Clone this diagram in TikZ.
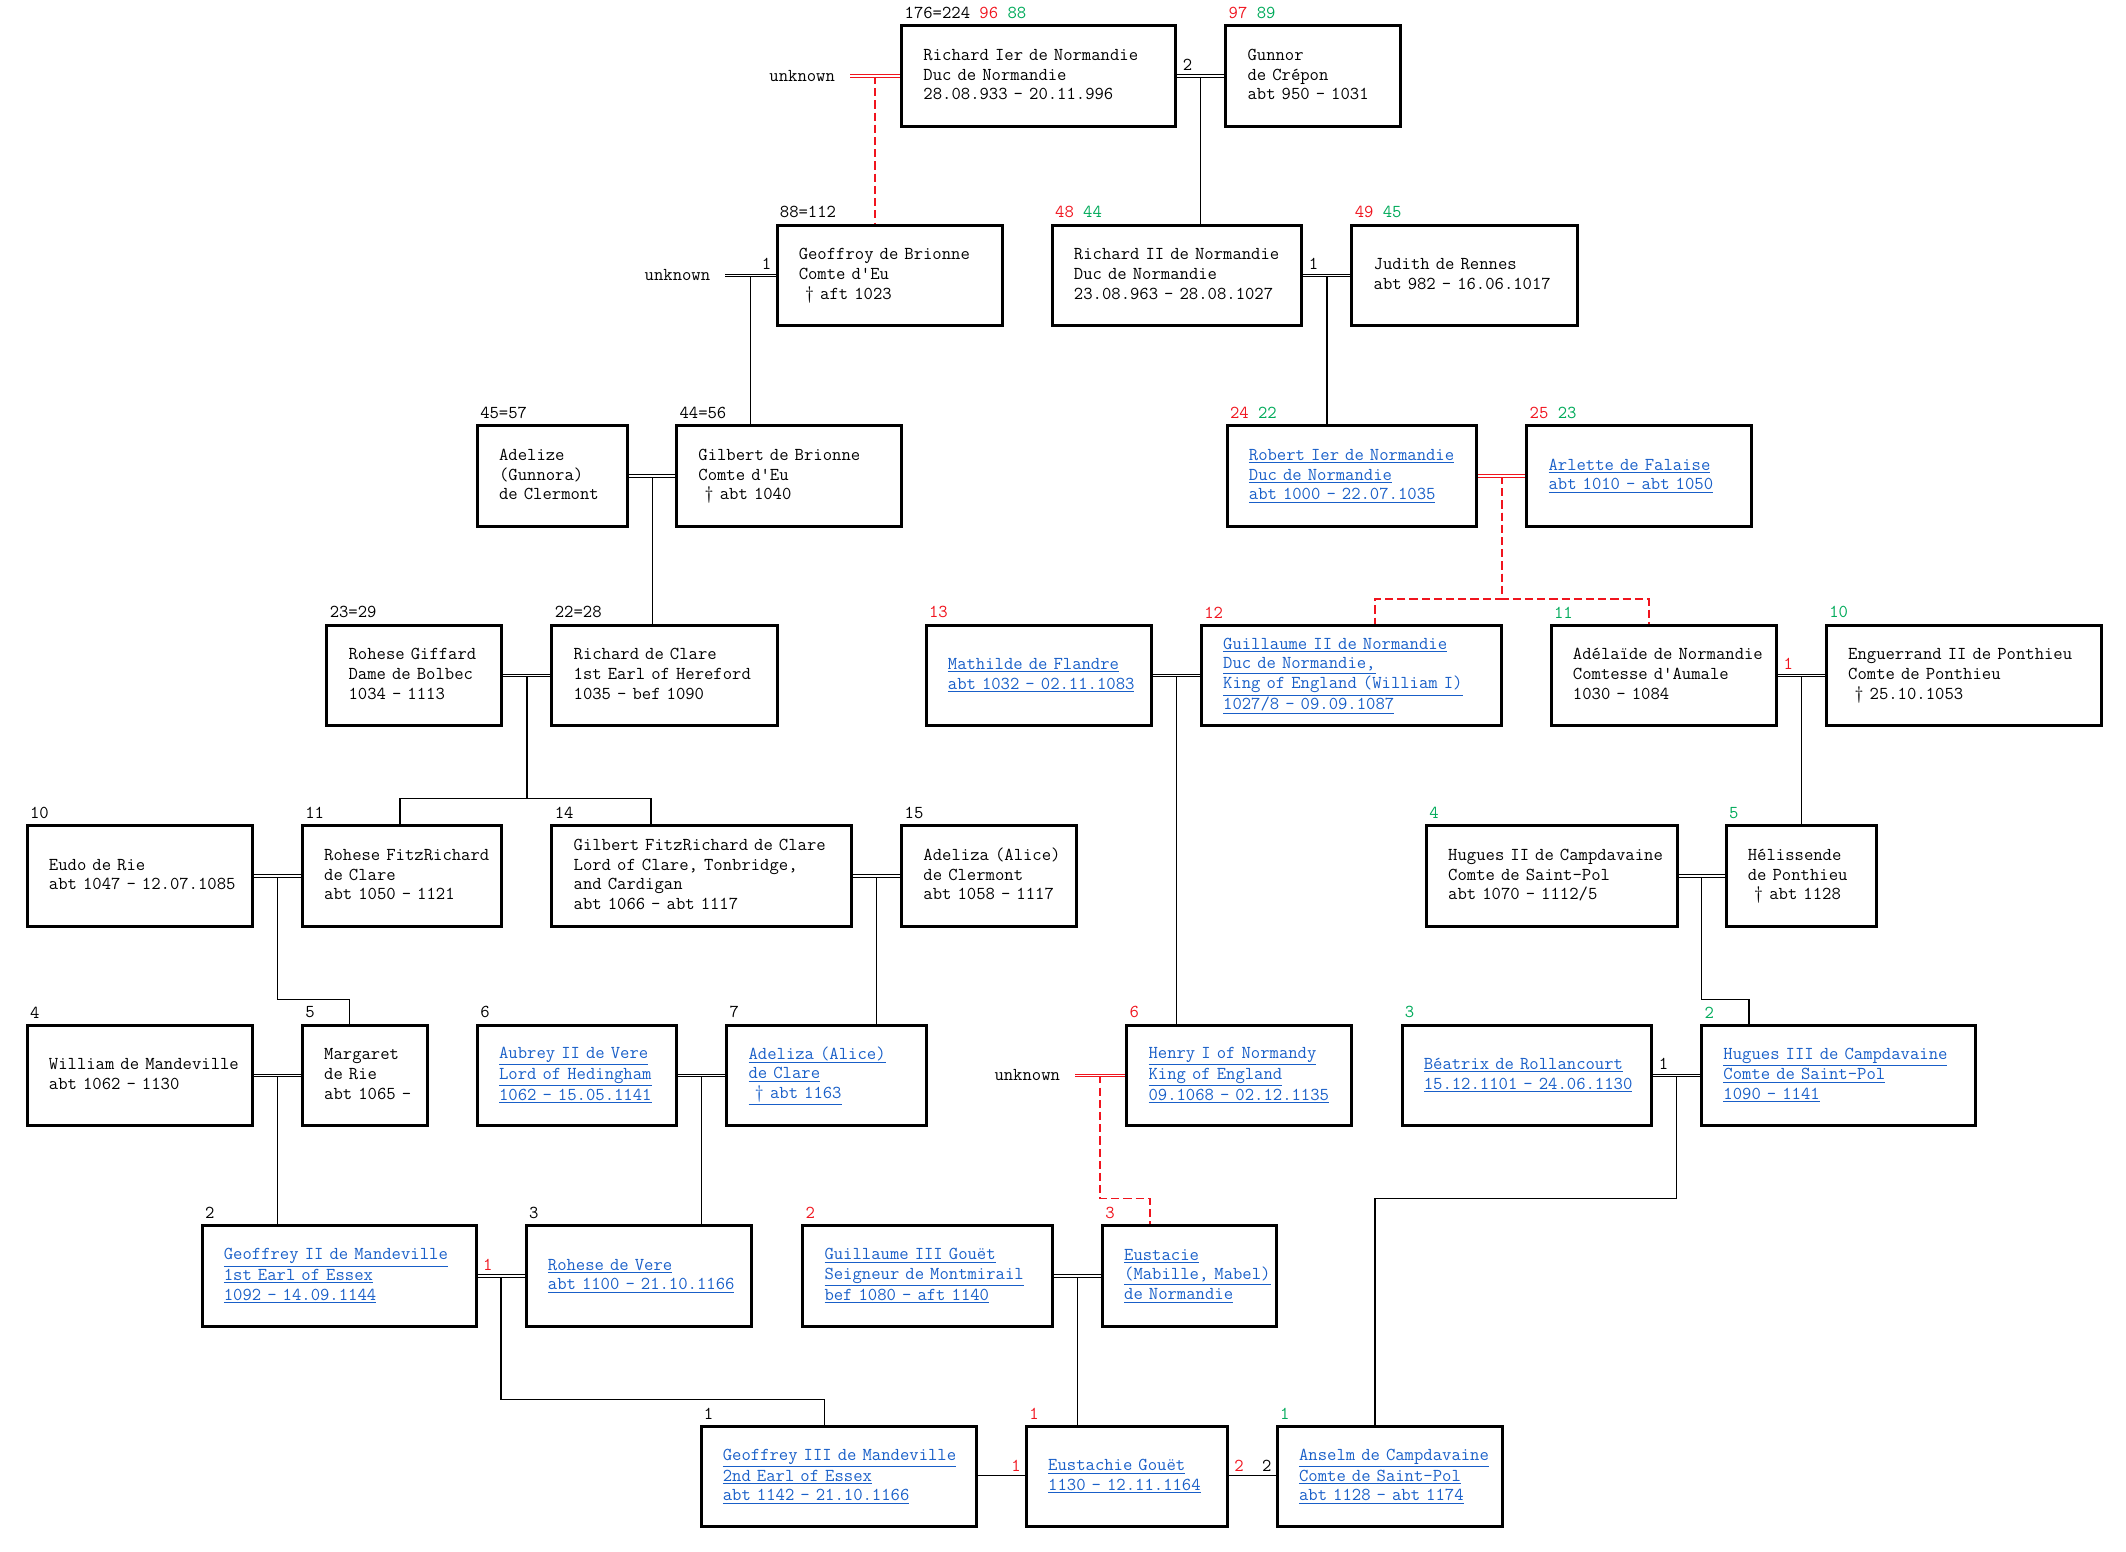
\documentclass[tikz,border=0pt]{standalone}
\usepackage{tikz}
\usetikzlibrary{positioning,calc,backgrounds}
\definecolor{linkblue}{RGB}{25,95,200}
\definecolor{genred}{RGB}{240,20,30}
\definecolor{gengreen}{RGB}{0,170,90}
\newcommand{\chartfont}{\fontsize{13.4}{14.6}\selectfont\ttfamily}
\newcommand{\entrylines}[1]{\begin{tabular}{@{}l@{}}#1\end{tabular}}
\tikzset{
    person/.style={draw, line width=2.2pt, anchor=north west, minimum height=74pt,
        inner xsep=16pt, inner ysep=0pt, text width=#1-32pt, align=left, font=\chartfont},
    linked/.style={person=#1, text=linkblue},
    gen/.style={inner sep=0pt, font=\chartfont},
    num/.style={inner sep=0pt, font=\chartfont},
    unk/.style={inner xsep=11pt, inner ysep=0pt, font=\chartfont},
    marr/.style={double, line width=0.6pt, double distance=1.2pt},
    marrR/.style={marr, draw=genred},
    desc/.style={line width=1pt},
    descR/.style={line width=1.3pt, genred, dash pattern=on 6pt off 3pt},
}

\begin{document}
\begin{tikzpicture}[x=1pt, y=-1pt]
    \useasboundingbox (0,0) rectangle (1568,1144);

    % Generation 1
    \node[person=202pt] (rich1) at (664,18) {\entrylines{Richard Ier de Normandie\\Duc de Normandie\\28.08.933 - 20.11.996}};
    \node[person=129pt] (gunnor) at (903,18) {\entrylines{Gunnor\\de Crépon\\abt 950 - 1031}};
    \node[unk, left=37pt of rich1.west] (unk1) {unknown};

    % Generation 2
    \node[person=166pt] (geof) at (572,165) {\entrylines{Geoffroy de Brionne\\Comte d'Eu\\~† aft 1023}};
    \node[person=184pt] (rich2) at (775,165) {\entrylines{Richard II de Normandie\\Duc de Normandie\\23.08.963 - 28.08.1027}};
    \node[person=166pt] (judith) at (996,165) {\entrylines{Judith de Rennes\\abt 982 - 16.06.1017}};
    \node[unk, left=37pt of geof.west] (unk2) {unknown};

    % Generation 3
    \node[person=111pt] (adelize) at (351,313) {\entrylines{Adelize\\(Gunnora)\\de Clermont}};
    \node[person=166pt] (gilb) at (498,313) {\entrylines{Gilbert de Brionne\\Comte d'Eu\\~† abt 1040}};
    \node[linked=184pt] (robert) at (904,313) {\entrylines{\underline{Robert Ier de Normandie}\\\underline{Duc de Normandie}\\\underline{abt 1000 - 22.07.1035}}};
    \node[linked=166pt] (arlette) at (1125,313) {\entrylines{\underline{Arlette de Falaise}\\\underline{abt 1010 - abt 1050}}};

    % Generation 4
    \node[person=129pt] (rgiff) at (240,460) {\entrylines{Rohese Giffard\\Dame de Bolbec\\1034 - 1113}};
    \node[person=166pt] (rclare) at (406,460) {\entrylines{Richard de Clare\\1st Earl of Hereford\\1035 - bef 1090}};
    \node[linked=166pt] (mathilde) at (682,460) {\entrylines{\underline{Mathilde de Flandre}\\\underline{abt 1032 - 02.11.1083}}};
    \node[linked=221pt] (guill) at (885,460) {\entrylines{\underline{Guillaume II de Normandie}\\\underline{Duc de Normandie,}\\\underline{King of England (William I)}\\\underline{1027/8 - 09.09.1087}}};
    \node[person=166pt] (adela) at (1143,460) {\entrylines{Adélaïde de Normandie\\Comtesse d'Aumale\\1030 - 1084}};
    \node[person=203pt] (engu) at (1346,460) {\entrylines{Enguerrand II de Ponthieu\\Comte de Ponthieu\\~† 25.10.1053}};

    % Generation 5
    \node[person=166pt] (eudo) at (19,608) {\entrylines{Eudo de Rie\\abt 1047 - 12.07.1085}};
    \node[person=147pt] (rfitz) at (222,608) {\entrylines{Rohese FitzRichard\\de Clare\\abt 1050 - 1121}};
    \node[person=221pt] (gfitz) at (406,608) {\entrylines{Gilbert FitzRichard de Clare\\Lord of Clare, Tonbridge,\\and Cardigan\\abt 1066 - abt 1117}};
    \node[person=129pt] (adclerm) at (664,608) {\entrylines{Adeliza (Alice)\\de Clermont\\abt 1058 - 1117}};
    \node[person=185pt] (hug2) at (1051,608) {\entrylines{Hugues II de Campdavaine\\Comte de Saint-Pol\\abt 1070 - 1112/5}};
    \node[person=111pt] (heliss) at (1272,608) {\entrylines{Hélissende\\de Ponthieu\\~† abt 1128}};

    % Generation 6
    \node[person=166pt] (william) at (19,755) {\entrylines{William de Mandeville\\abt 1062 - 1130}};
    \node[person=92pt] (margaret) at (222,755) {\entrylines{Margaret\\de Rie\\abt 1065 -}};
    \node[linked=147pt] (aubrey) at (351,755) {\entrylines{\underline{Aubrey II de Vere}\\\underline{Lord of Hedingham}\\\underline{1062 - 15.05.1141}}};
    \node[linked=147pt] (adclare) at (535,755) {\entrylines{\underline{Adeliza (Alice)}\\\underline{de Clare}\\\underline{~† abt 1163}}};
    \node[linked=166pt] (henry) at (830,755) {\entrylines{\underline{Henry I of Normandy}\\\underline{King of England}\\\underline{09.1068 - 02.12.1135}}};
    \node[linked=184pt] (beatrix) at (1033,755) {\entrylines{\underline{Béatrix de Rollancourt}\\\underline{15.12.1101 - 24.06.1130}}};
    \node[linked=202pt] (hug3) at (1254,755) {\entrylines{\underline{Hugues III de Campdavaine}\\\underline{Comte de Saint-Pol}\\\underline{1090 - 1141}}};
    \node[unk, left=37pt of henry.west] (unk3) {unknown};

    % Generation 7
    \node[linked=202pt] (geof2) at (148,903) {\entrylines{\underline{Geoffrey II de Mandeville}\\\underline{1st Earl of Essex}\\\underline{1092 - 14.09.1144}}};
    \node[linked=166pt] (rvere) at (387,903) {\entrylines{\underline{Rohese de Vere}\\\underline{abt 1100 - 21.10.1166}}};
    \node[linked=184pt] (gouet) at (591,903) {\entrylines{\underline{Guillaume III Gouët}\\\underline{Seigneur de Montmirail}\\\underline{bef 1080 - aft 1140}}};
    \node[linked=128pt] (eustacie) at (812,903) {\entrylines{\underline{Eustacie}\\\underline{(Mabille, Mabel)}\\\underline{de Normandie}}};

    % Generation 8
    \node[linked=203pt] (geof3) at (516,1051) {\entrylines{\underline{Geoffrey III de Mandeville}\\\underline{2nd Earl of Essex}\\\underline{abt 1142 - 21.10.1166}}};
    \node[linked=148pt] (eustachie) at (756,1051) {\entrylines{\underline{Eustachie Gouët}\\\underline{1130 - 12.11.1164}}};
    \node[linked=166pt] (anselm) at (941,1051) {\entrylines{\underline{Anselm de Campdavaine}\\\underline{Comte de Saint-Pol}\\\underline{abt 1128 - abt 1174}}};

    % Sosa numbers
    \node[gen, above right=4pt and 3pt of rich1.north west] (g-rich1) {176=224 \textcolor{genred}{96} \textcolor{gengreen}{88}};
    \node[gen, above right=4pt and 3pt of gunnor.north west] (g-gunnor) {\textcolor{genred}{97} \textcolor{gengreen}{89}};
    \node[gen, above right=4pt and 3pt of geof.north west] (g-geof) {88=112};
    \node[gen, above right=4pt and 3pt of rich2.north west] (g-rich2) {\textcolor{genred}{48} \textcolor{gengreen}{44}};
    \node[gen, above right=4pt and 3pt of judith.north west] (g-judith) {\textcolor{genred}{49} \textcolor{gengreen}{45}};
    \node[gen, above right=4pt and 3pt of adelize.north west] (g-adelize) {45=57};
    \node[gen, above right=4pt and 3pt of gilb.north west] (g-gilb) {44=56};
    \node[gen, above right=4pt and 3pt of robert.north west] (g-robert) {\textcolor{genred}{24} \textcolor{gengreen}{22}};
    \node[gen, above right=4pt and 3pt of arlette.north west] (g-arlette) {\textcolor{genred}{25} \textcolor{gengreen}{23}};
    \node[gen, above right=4pt and 3pt of rgiff.north west] (g-rgiff) {23=29};
    \node[gen, above right=4pt and 3pt of rclare.north west] (g-rclare) {22=28};
    \node[gen, above right=4pt and 3pt of mathilde.north west, genred] (g-mathilde) {13};
    \node[gen, above right=4pt and 3pt of guill.north west, genred] (g-guill) {12};
    \node[gen, above right=4pt and 3pt of adela.north west, gengreen] (g-adela) {11};
    \node[gen, above right=4pt and 3pt of engu.north west, gengreen] (g-engu) {10};
    \node[gen, above right=4pt and 3pt of eudo.north west] (g-eudo) {10};
    \node[gen, above right=4pt and 3pt of rfitz.north west] (g-rfitz) {11};
    \node[gen, above right=4pt and 3pt of gfitz.north west] (g-gfitz) {14};
    \node[gen, above right=4pt and 3pt of adclerm.north west] (g-adclerm) {15};
    \node[gen, above right=4pt and 3pt of hug2.north west, gengreen] (g-hug2) {4};
    \node[gen, above right=4pt and 3pt of heliss.north west, gengreen] (g-heliss) {5};
    \node[gen, above right=4pt and 3pt of william.north west] (g-william) {4};
    \node[gen, above right=4pt and 3pt of margaret.north west] (g-margaret) {5};
    \node[gen, above right=4pt and 3pt of aubrey.north west] (g-aubrey) {6};
    \node[gen, above right=4pt and 3pt of adclare.north west] (g-adclare) {7};
    \node[gen, above right=4pt and 3pt of henry.north west, genred] (g-henry) {6};
    \node[gen, above right=4pt and 3pt of beatrix.north west, gengreen] (g-beatrix) {3};
    \node[gen, above right=4pt and 3pt of hug3.north west, gengreen] (g-hug3) {2};
    \node[gen, above right=4pt and 3pt of geof2.north west] (g-geof2) {2};
    \node[gen, above right=4pt and 3pt of rvere.north west] (g-rvere) {3};
    \node[gen, above right=4pt and 3pt of gouet.north west, genred] (g-gouet) {2};
    \node[gen, above right=4pt and 3pt of eustacie.north west, genred] (g-eustacie) {3};
    \node[gen, above right=4pt and 3pt of geof3.north west] (g-geof3) {1};
    \node[gen, above right=4pt and 3pt of eustachie.north west, genred] (g-eustachie) {1};
    \node[gen, above right=4pt and 3pt of anselm.north west, gengreen] (g-anselm) {1};

    % marriage numbers
    \node[num, above right=4pt and 4pt of rich1.east] (n-rich1) {2};
    \node[num, above left=4pt and 3pt of geof.west] (n-geof) {1};
    \node[num, above right=4pt and 4pt of rich2.east] (n-rich2) {1};
    \node[num, above right=4pt and 4pt of adela.east, genred] (n-adela) {1};
    \node[num, above right=4pt and 4pt of beatrix.east] (n-beatrix) {1};
    \node[num, above right=4pt and 4pt of geof2.east, genred] (n-geof2) {1};
    \node[num, above left=4pt and 3pt of eustachie.west, genred] (n-eustachie) {1};
    \node[num, above right=4pt and 4pt of eustachie.east, genred] (n-eustachie2) {2};
    \node[num, above left=4pt and 3pt of anselm.west] (n-anselm) {2};

    \begin{scope}[on background layer]
    % couples
    \coordinate (m-rg) at ($(rich1.east)!0.5!(gunnor.west)$);
    \coordinate (m-ur) at ($(unk1.east)!0.5!(rich1.west)$);
    \coordinate (m-ug) at ($(unk2.east)!0.5!(geof.west)$);
    \coordinate (m-rj) at ($(rich2.east)!0.5!(judith.west)$);
    \coordinate (m-ag) at ($(adelize.east)!0.5!(gilb.west)$);
    \coordinate (m-ra) at ($(robert.east)!0.5!(arlette.west)$);
    \coordinate (m-gc) at ($(rgiff.east)!0.5!(rclare.west)$);
    \coordinate (m-mg) at ($(mathilde.east)!0.5!(guill.west)$);
    \coordinate (m-ae) at ($(adela.east)!0.5!(engu.west)$);
    \coordinate (m-er) at ($(eudo.east)!0.5!(rfitz.west)$);
    \coordinate (m-ga) at ($(gfitz.east)!0.5!(adclerm.west)$);
    \coordinate (m-hh) at ($(hug2.east)!0.5!(heliss.west)$);
    \coordinate (m-wm) at ($(william.east)!0.5!(margaret.west)$);
    \coordinate (m-aa) at ($(aubrey.east)!0.5!(adclare.west)$);
    \coordinate (m-uh) at ($(unk3.east)!0.5!(henry.west)$);
    \coordinate (m-bh) at ($(beatrix.east)!0.5!(hug3.west)$);
    \coordinate (m-gr) at ($(geof2.east)!0.5!(rvere.west)$);
    \coordinate (m-ge) at ($(gouet.east)!0.5!(eustacie.west)$);

    % where a child line meets its box
    \coordinate (t-rfitz) at ([xshift=73pt]rfitz.north west);
    \coordinate (t-gfitz) at ([xshift=74pt]gfitz.north west);
    \coordinate (t-guill) at ([xshift=129pt]guill.north west);
    \coordinate (t-adela) at ([xshift=73pt]adela.north west);
    \coordinate (t-marg) at ([xshift=36pt]margaret.north west);
    \coordinate (t-hug3) at ([xshift=36pt]hug3.north west);
    \coordinate (t-eust) at ([xshift=36pt]eustacie.north west);
    \coordinate (t-anselm) at ([xshift=73pt]anselm.north west);
    \coordinate (t-geof3) at ([xshift=92pt]geof3.north west);

    % descent
    \draw[desc] (m-rg) -- (m-rg |- rich2.north);
    \draw[descR] (m-ur) -- (m-ur |- geof.north);
    \draw[desc] (m-ug) -- (m-ug |- gilb.north);
    \draw[desc] (m-rj) -- (m-rj |- robert.north);
    \draw[desc] (m-ag) -- (m-ag |- rclare.north);
    \draw[descR] (m-ra) |- ([yshift=18pt]t-guill) -- (t-guill);
    \draw[descR] (m-ra) |- ([yshift=18pt]t-adela) -- (t-adela);
    \draw[desc] (m-gc) |- ([yshift=19pt]t-rfitz) -- (t-rfitz);
    \draw[desc] (m-gc) |- ([yshift=19pt]t-gfitz) -- (t-gfitz);
    \draw[desc] (m-mg) -- (m-mg |- henry.north);
    \draw[desc] (m-ae) -- (m-ae |- heliss.north);
    \draw[desc] (m-er) |- ([yshift=18pt]t-marg) -- (t-marg);
    \draw[desc] (m-ga) -- (m-ga |- adclare.north);
    \draw[desc] (m-hh) |- ([yshift=18pt]t-hug3) -- (t-hug3);
    \draw[desc] (m-wm) -- (m-wm |- geof2.north);
    \draw[desc] (m-aa) -- (m-aa |- rvere.north);
    \draw[descR] (m-uh) |- ([yshift=19pt]t-eust) -- (t-eust);
    \draw[desc] (m-bh) |- ([yshift=167pt]t-anselm) -- (t-anselm);
    \draw[desc] (m-gr) |- ([yshift=19pt]t-geof3) -- (t-geof3);
    \draw[desc] (m-ge) -- (m-ge |- eustachie.north);

    % marriages
    \draw[marr] (rich1) -- (gunnor);
    \draw[marrR] (unk1.east) -- (rich1.west);
    \draw[marr] (unk2.east) -- (geof.west);
    \draw[marr] (rich2) -- (judith);
    \draw[marr] (adelize) -- (gilb);
    \draw[marrR] (robert) -- (arlette);
    \draw[marr] (rgiff) -- (rclare);
    \draw[marr] (mathilde) -- (guill);
    \draw[marr] (adela) -- (engu);
    \draw[marr] (eudo) -- (rfitz);
    \draw[marr] (gfitz) -- (adclerm);
    \draw[marr] (hug2) -- (heliss);
    \draw[marr] (william) -- (margaret);
    \draw[marr] (aubrey) -- (adclare);
    \draw[marrR] (unk3.east) -- (henry.west);
    \draw[marr] (beatrix) -- (hug3);
    \draw[marr] (geof2) -- (rvere);
    \draw[marr] (gouet) -- (eustacie);
    \draw[marr] (geof3) -- (eustachie);
    \draw[marr] (eustachie) -- (anselm);
    \end{scope}
\end{tikzpicture}
\end{document}
